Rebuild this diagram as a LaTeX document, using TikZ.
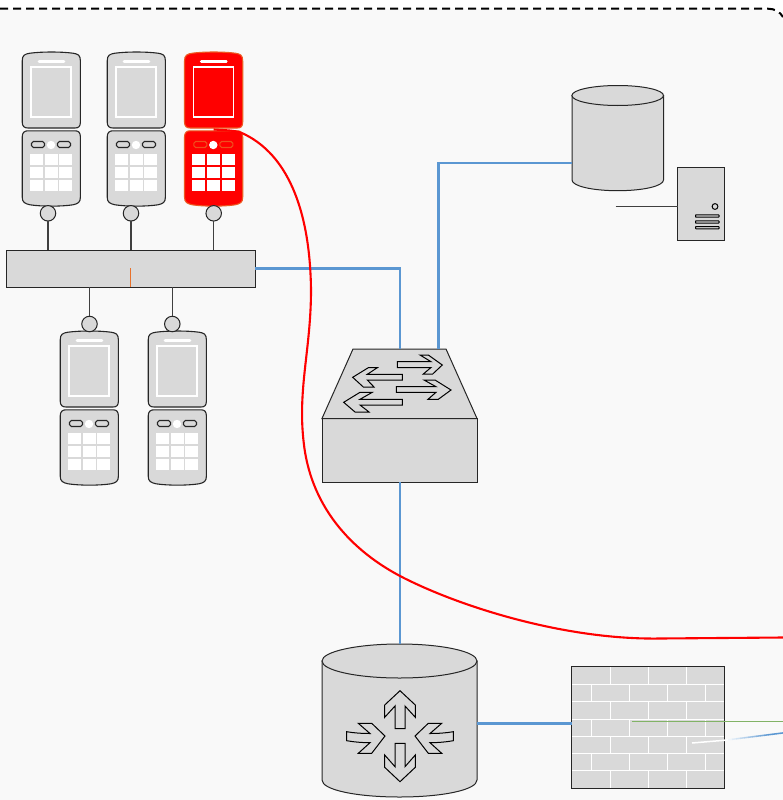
\documentclass[tikz,border=0pt]{standalone}
\usetikzlibrary{calc}
\definecolor{bgc}{HTML}{F9F9F9}
\definecolor{gfill}{HTML}{D9D9D9}
\definecolor{bluec}{HTML}{5B97D2}
\definecolor{greenc}{HTML}{82B366}
\definecolor{orangec}{HTML}{E8712B}
\tikzset{
  x=1pt,y=-1pt,
  shapeg/.style={draw=black!85,line width=1pt,fill=gfill},
  boxnode/.style={shapeg,rectangle,inner sep=0pt,outer sep=0pt,anchor=north west},
  wire/.style={draw=black!75,line width=1.05pt},
  bluewire/.style={draw=bluec,line width=2.2pt},
  redwire/.style={draw=red,line width=2.1pt},
  whiteline/.style={draw=white,line width=1pt},
  arrowshape/.style={draw=black,line width=1pt,fill=gfill,line join=miter},
  jack/.style={shapeg,circle,minimum size=15.5pt,inner sep=0pt,outer sep=0pt},
}
% #1 left x, #2 top y, #3 body fill, #4 body stroke, #5 small button stroke
\newcommand{\phoneicon}[5]{
  \begin{scope}[shift={(#1,#2)}]
    \path[fill=#3,draw=#4,line width=1.1pt]
      (0.2,9) .. controls (0.2,3) and (3,2) .. (8,1.2) .. controls (20,-0.4) and (39,-0.4) .. (51,1.2)
      .. controls (56,2) and (58.4,3) .. (58.4,9) -- (58.4,70) .. controls (58.4,74.5) and (56.5,76) .. (53,76)
      -- (6,76) .. controls (2.5,76) and (0.2,74.5) .. (0.2,70) -- cycle;
    \path[fill=#3,draw=#4,line width=1.1pt]
      (0.2,85) .. controls (0.2,80.5) and (2.5,78.8) .. (6,78.8) -- (53,78.8) .. controls (56.5,78.8) and (58.4,80.5) .. (58.4,85)
      -- (58.4,145) .. controls (58.4,150.5) and (56,151.6) .. (51,152.8) .. controls (39,154.6) and (20,154.6) .. (8,152.8)
      .. controls (3,151.6) and (0.2,150.5) .. (0.2,145) -- cycle;
    \draw[white,line width=1.1pt] (9,15) rectangle (49,65);
    \draw[white,line width=2.8pt,line cap=round] (17,9.3) -- (42,9.3);
    \draw[#5,line width=1.1pt,fill=#3,rounded corners=1.8pt] (9.5,89.5) rectangle (22.5,95.5);
    \draw[#5,line width=1.1pt,fill=#3,rounded corners=1.8pt] (35.5,89.5) rectangle (48.5,95.5);
    \fill[white] (29,93) circle (4.2);
    \foreach \yy in {101.5,114.5,127.8}{
      \foreach \xx in {8,22.8,37.2}{
        \fill[white] (\xx,\yy) rectangle ++(13,11);
      }
    }
  \end{scope}
}
\begin{document}
\begin{tikzpicture}
\useasboundingbox (0,0) rectangle (783,800);
\fill[white] (0,0) rectangle (783,800);
\fill[bgc] (0,9) -- (768,9) .. controls (777,9) and (783,15) .. (783,24) -- (783,800) -- (0,800) -- cycle;
\draw[black,line width=2pt,dash pattern=on 8pt off 5pt] (0,8.7) -- (768,8.7) .. controls (775,8.7) and (780,12) .. (783,17);

% phones
\phoneicon{22}{52}{gfill}{black!85}{black!85}
\phoneicon{107}{52}{gfill}{black!85}{black!85}
\phoneicon{184.3}{52}{red}{orangec!80!red}{orangec!70!red}
\phoneicon{60}{331}{gfill}{black!85}{black!85}
\phoneicon{148}{331}{gfill}{black!85}{black!85}

% bus and jacks
\node[boxnode,minimum width=248.3pt,minimum height=37pt] (bus) at (6.7,250) {};
\draw[orangec,line width=1.4pt] (130.7,268) -- (130.7,287);
\node[jack] (j1) at (48,213.3) {};
\node[jack] (j2) at (131,213.3) {};
\node[jack] (j3) at (213.7,213.3) {};
\node[jack] (j4) at (89.5,324) {};
\node[jack] (j5) at (172.3,324) {};
\draw[wire] (j1) -- (j1 |- bus.north);
\draw[wire] (j2) -- (j2 |- bus.north);
\draw[wire] (j3) -- (j3 |- bus.north);
\draw[wire] (j4) -- (j4 |- bus.south);
\draw[wire] (j5) -- (j5 |- bus.south);

% switch
\node[boxnode,minimum width=155pt,minimum height=63.5pt] (swbox) at (322,418.5) {};
\path[shapeg] (353,349) -- (446,349) -- (477,418.5) -- (322,418.5) -- cycle;
\coordinate (swtop) at (400,349);
\coordinate (swtopb) at (438.5,349);
\coordinate (swbot) at (400,482);
\draw[arrowshape] (397.3,361.7) -- (431,361.7) -- (420,355) -- (428.3,355) -- (442.3,365) -- (432.7,374) -- (423.3,374) -- (431,367.5) -- (397.3,367.5) -- cycle;
\draw[arrowshape] (352.7,377.3) -- (368.3,367.7) -- (377.3,367.7) -- (367.3,374.3) -- (402.3,374.3) -- (402.3,380) -- (367.3,380) -- (374,387) -- (363.3,387) -- cycle;
\draw[arrowshape] (396.3,386.7) -- (436,386.7) -- (424,380) -- (435,380) -- (451,390) -- (438.3,399.3) -- (428,399.3) -- (436,392.3) -- (396.3,392.3) -- cycle;
\draw[arrowshape] (343.7,402.3) -- (360,392.3) -- (372.3,392.3) -- (360,399.3) -- (402.3,399.3) -- (402.3,405) -- (360,405) -- (369,412) -- (355,412) -- cycle;

% router
\path[shapeg] (322,661) -- (322,780) .. controls (322,790) and (357,797) .. (399.5,797) .. controls (442,797) and (477,790) .. (477,780) -- (477,661) -- cycle;
\draw[shapeg] (399.5,661) ellipse (77.5 and 17);
\coordinate (rttop) at (400,644);
\coordinate (rtright) at (477,723.5);
\draw[arrowshape] (400,690.7) -- (415.3,705) -- (415.3,717.3) -- (405,706) -- (405,728.7) -- (395,728.7) -- (395,706) -- (384.7,717.3) -- (384.7,705) -- cycle;
\draw[arrowshape] (405,743.3) -- (405,766.7) -- (415.3,755) -- (415.3,767.3) -- (400,781.7) -- (384.7,767.3) -- (384.7,755) -- (395,766.7) -- (395,743.3) -- cycle;
\draw[arrowshape] (385,736) -- (371.7,723.3) -- (358.3,723.3) -- (370,733.5) .. controls (362,733.5) and (354,733) .. (346.7,731.7) -- (346.7,740.7) .. controls (354,742) and (362,742.7) .. (370,742.7) -- (358.3,753.3) -- (371.7,753.3) -- cycle;
\draw[arrowshape] (415,736) -- (428.3,723.3) -- (441.7,723.3) -- (430,733.5) .. controls (438,733.5) and (446,733) .. (453.3,731.7) -- (453.3,740.7) .. controls (446,742) and (438,742.7) .. (430,742.7) -- (441.7,753.3) -- (428.3,753.3) -- cycle;

% firewall
\node[boxnode,minimum width=152.8pt,minimum height=121.3pt] (fw) at (571.7,666.7) {};
\foreach \yy in {684.3,701.7,719,736.3,753.3,770}{
  \draw[whiteline] (572.2,\yy) -- (724,\yy);
}
\foreach \xx in {610.3,648.3,686.3}{
  \draw[whiteline] (\xx,667.2) -- (\xx,684.3);
  \draw[whiteline] (\xx,701.7) -- (\xx,719);
  \draw[whiteline] (\xx,736.3) -- (\xx,753.3);
  \draw[whiteline] (\xx,770) -- (\xx,787.5);
}
\foreach \xx in {591,629,667.5,705.5}{
  \draw[whiteline] (\xx,684.3) -- (\xx,701.7);
  \draw[whiteline] (\xx,719) -- (\xx,736.3);
  \draw[whiteline] (\xx,753.3) -- (\xx,770);
}
\draw[draw=black!85,line width=1pt] (fw.north west) rectangle (fw.south east);
\coordinate (fwleft) at (571.7,723.5);
\draw[greenc,line width=1.5pt] (631.5,721.5) -- (783,721.5);
\draw[white,line width=1.5pt] (692,743) -- (724,740.3);
\foreach \i in {0,...,14}{
  \pgfmathsetmacro{\xa}{724+\i*4}
  \pgfmathsetmacro{\xb}{\xa+4.3}
  \pgfmathsetmacro{\ya}{740.3-(\xa-724)*0.125}
  \pgfmathsetmacro{\yb}{740.3-(\xb-724)*0.125}
  \pgfmathsetmacro{\mx}{min(100,\i*100/11)}
  \draw[bluec!\mx!white,line width=1.5pt] (\xa,\ya) -- (\xb,\yb);
}

% database
\path[shapeg] (572,95.5) -- (572,180) .. controls (572,186) and (592,190.7) .. (617.7,190.7) .. controls (643.5,190.7) and (663.5,186) .. (663.5,180) -- (663.5,95.5) -- cycle;
\draw[shapeg] (617.7,95.5) ellipse (45.8 and 10);
\coordinate (dbleft) at (572,163);
% server
\node[boxnode,minimum width=47pt,minimum height=73pt] (srv) at (677.5,167.5) {};
\coordinate (srvend) at (615.5,206.5);
\draw[wire] (srvend) -- (srvend -| srv.west);
\draw[black,line width=1pt] (715,206.5) circle (2.9);
\foreach \yy in {216,222,227.7}{
  \draw[black,line width=1pt,fill=gfill,rounded corners=0.6pt] (695.5,\yy-1.2) rectangle (719,\yy+1.2);
}

% connectors
\coordinate (bushook) at (255,268.5);
\draw[bluewire] (bushook) -- (400,268.5) -- (swtop);
\draw[bluewire] (swtopb) -- (438.5,163) -- (dbleft);
\draw[bluewire] (swbot) -- (rttop);
\draw[bluewire] (rtright) -- (fwleft);
\coordinate (redstart) at (213.7,129.5);
\coordinate (redend) at (783,637.5);
\draw[redwire] (redstart) .. controls (228,130.5) and (237,130) .. (246,135)
  .. controls (285,155) and (310,205) .. (311,290)
  .. controls (311,350) and (297,390) .. (304,445)
  .. controls (312,510) and (355,555) .. (410,581)
  .. controls (470,610) and (570,640) .. (660,638.5)
  -- (redend);
\end{tikzpicture}
\end{document}
